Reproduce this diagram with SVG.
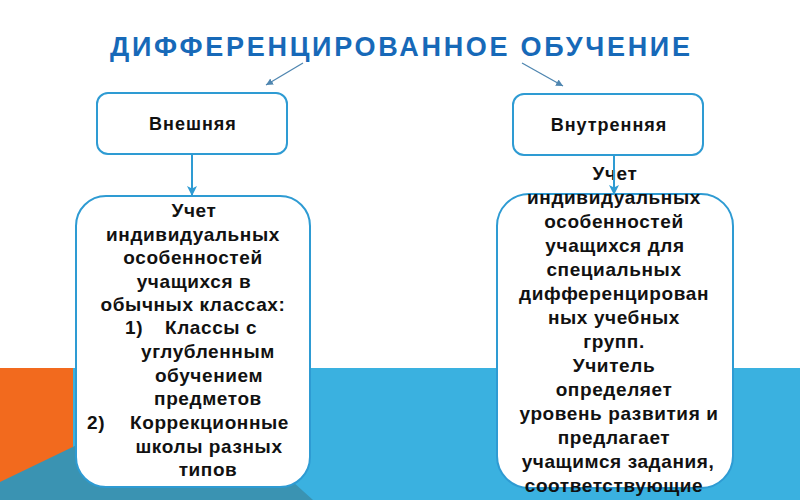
<svg xmlns="http://www.w3.org/2000/svg" width="800" height="500" viewBox="0 0 800 500">
  <defs>
    <marker id="thinHead" markerWidth="8" markerHeight="8" refX="7" refY="4" orient="auto" markerUnits="userSpaceOnUse">
      <path d="M0,0.5 L7,4 L0,7.5 Z" fill="#4F86B0"/>
    </marker>
    <marker id="blueHead" markerWidth="12" markerHeight="12" refX="10" refY="5" orient="auto" markerUnits="userSpaceOnUse">
      <path d="M0,0 L10,5 L0,10 L2.5,5 Z" fill="#2E9BD3"/>
    </marker>
    <style>
      .title { font-family: "Liberation Sans", Arial, sans-serif; font-weight: bold; font-size: 27px; fill: #1769B8; }
      .box { fill: #ffffff; stroke: #2E9BD3; stroke-width: 2; }
      .label { font-family: "Liberation Sans", Arial, sans-serif; font-weight: bold; font-size: 18px; fill: #111111; letter-spacing: 1px; }
      .body { font-family: "Liberation Sans", Arial, sans-serif; font-weight: bold; font-size: 19px; fill: #111111; letter-spacing: 0.6px; }
      .mid { text-anchor: middle; }
      .thin { stroke: #4F86B0; stroke-width: 1.3; fill: none; }
      .down { stroke: #2E9BD3; stroke-width: 2; fill: none; }
    </style>
  </defs>

  <g id="background">
    <rect x="0" y="0" width="800" height="500" fill="#ffffff"/>
    <rect x="73" y="368" width="727" height="132" fill="#3AB1E0"/>
    <rect x="0" y="368" width="73" height="132" fill="#F26A1E"/>
    <polygon points="0,482 191,390 313,500 0,500" fill="#3A93B2"/>
  </g>

  <g id="title">
    <text class="title mid" x="400" y="56" textLength="580" lengthAdjust="spacing">ДИФФЕРЕНЦИРОВАННОЕ ОБУЧЕНИЕ</text>
  </g>

  <g id="node-external">
    <rect class="box" x="97" y="93" width="190" height="61" rx="11"/>
    <text class="label mid" x="193" y="130">Внешняя</text>
  </g>

  <g id="node-internal">
    <rect class="box" x="513" y="94" width="190" height="61" rx="11"/>
    <text class="label mid" x="609" y="131">Внутренняя</text>
  </g>

  <g id="node-external-desc">
    <rect class="box" x="76" y="196" width="234" height="291" rx="30"/>
    <text class="body mid" x="194" y="217">Учет</text>
    <text class="body mid" x="193" y="241">индивидуальных</text>
    <text class="body mid" x="193" y="264">особенностей</text>
    <text class="body mid" x="194" y="288">учащихся в</text>
    <text class="body mid" x="193" y="311">обычных классах:</text>
    <text class="body" x="125" y="334">1)</text>
    <text class="body" x="165" y="334">Классы с</text>
    <text class="body mid" x="208" y="358">углубленным</text>
    <text class="body mid" x="209" y="382">обучением</text>
    <text class="body mid" x="208" y="405">предметов</text>
    <text class="body" x="87" y="429">2)</text>
    <text class="body" x="130" y="429">Коррекционные</text>
    <text class="body mid" x="209" y="453">школы разных</text>
    <text class="body mid" x="208" y="476">типов</text>
  </g>

  <g id="node-internal-desc">
    <rect class="box" x="497" y="194" width="236" height="294" rx="32"/>
    <text class="body mid" x="615" y="180">Учет</text>
    <text class="body mid" x="614" y="204">индивидуальных</text>
    <text class="body mid" x="614" y="228">особенностей</text>
    <text class="body mid" x="615" y="252">учащихся для</text>
    <text class="body mid" x="614" y="276">специальных</text>
    <text class="body mid" x="614" y="300">дифференцирован</text>
    <text class="body mid" x="614" y="324">ных учебных</text>
    <text class="body mid" x="614" y="348">групп.</text>
    <text class="body mid" x="614" y="372">Учитель</text>
    <text class="body mid" x="614" y="396">определяет</text>
    <text class="body mid" x="619" y="420">уровень развития и</text>
    <text class="body mid" x="614" y="444">предлагает</text>
    <text class="body mid" x="618" y="468">учащимся задания,</text>
    <text class="body mid" x="614" y="492">соответствующие</text>
  </g>

  <g id="connectors">
    <line class="thin" x1="303" y1="63" x2="266" y2="85" marker-end="url(#thinHead)"/>
    <line class="thin" x1="522" y1="63" x2="563" y2="86" marker-end="url(#thinHead)"/>
    <line class="down" x1="192" y1="155" x2="192" y2="196" marker-end="url(#blueHead)"/>
    <line class="down" x1="614" y1="156" x2="614" y2="195" marker-end="url(#blueHead)"/>
  </g>
</svg>
